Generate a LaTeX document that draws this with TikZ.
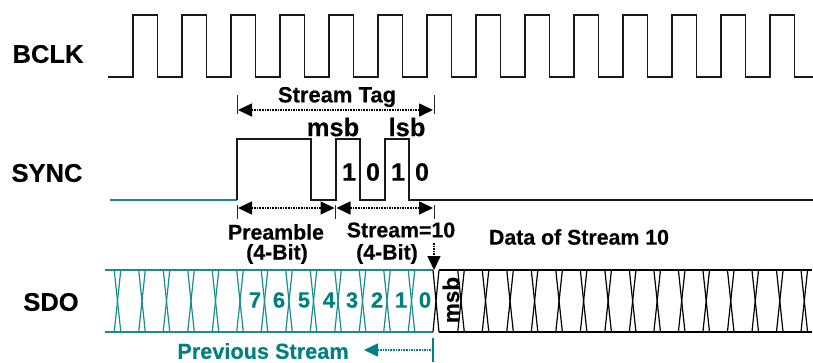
\documentclass[tikz,border=0pt]{standalone}
\usepackage{fontspec}
\setmainfont{Liberation Sans}[BoldFont={Liberation Sans Bold},BoldFeatures={FakeBold=0.35}]
\usetikzlibrary{arrows.meta}
\definecolor{tealc}{RGB}{0,128,128}
\tikzset{
  wave/.style={line width=1.3pt,black!90,line join=miter},
  twave/.style={line width=1.2pt,tealc!90!white},
  xline/.style={line width=1.2pt,black},
  tick/.style={line width=0.9pt,black!85},
  dotarrow/.style={line width=1.6pt,dash pattern=on 1.6pt off 1pt,
     {Triangle[length=14pt,width=13pt,sep=0pt]}-{Triangle[length=14pt,width=13pt]},shorten <=1pt,shorten >=1pt},
  onearrow/.style={line width=1.6pt,dash pattern=on 1.6pt off 1pt,-{Triangle[length=14pt,width=13pt]}},
  lab/.style={font=\bfseries\fontsize{25.5}{27}\selectfont,inner sep=0pt},
  txt/.style={font=\bfseries\fontsize{21.3}{23}\selectfont,inner sep=0pt},
  bits/.style={font=\bfseries\fontsize{25}{27}\selectfont,inner sep=0pt},
  tbits/.style={font=\bfseries\fontsize{22}{24}\selectfont,inner sep=0pt,text=tealc},
}
\begin{document}
\begin{tikzpicture}[x=1pt,y=-1pt]
\useasboundingbox[fill=white] (0,0) rectangle (813,362);
% labels
\node[lab] (bclk) at (48,54) {BCLK};
\node[lab] (sync) at (47,173) {SYNC};
\node[lab] (sdo) at (51,302) {SDO};
% BCLK
\draw[wave] (108,77)
  \foreach \k in {0,...,13}{ -- ({133+49*\k},77) -- ({133+49*\k},15) -- ({157.5+49*\k},15) -- ({157.5+49*\k},77) }
  -- (813,77);
% SYNC
\coordinate (s0) at (110,200);
\coordinate (s1) at (237,200);
\draw[twave] (s0) -- (s1);
\draw[wave] (s1) -- (237,139) -- (311,139) -- (311,200) -- (336,200) -- (336,139) -- (360,139)
  -- (360,200) -- (385,200) -- (385,139) -- (409,139) -- (409,200) -- (813,200);
% stream tag
\coordinate (t1) at (237,110);
\coordinate (t2) at (434,110);
\draw[tick] (237,95) -- (237,114);
\draw[tick] (434,95) -- (434,114);
\draw[dotarrow] (t1) -- (t2);
\node[txt,font=\bfseries\fontsize{22}{24}\selectfont] (streamtag) at (337,97) {Stream Tag};
\node[lab] (msbtop) at (333,127) {msb};
\node[lab] (lsbtop) at (407,127) {lsb};
\node[bits] (b1) at (349,172) {1};
\node[bits] (b2) at (373,172) {0};
\node[bits] (b3) at (398,172) {1};
\node[bits] (b4) at (422,172) {0};
% preamble / stream arrows
\coordinate (p1) at (237,208);
\coordinate (p2) at (335.5,208);
\coordinate (p3) at (434,208);
\draw[tick] (237,205) -- (237,219);
\draw[tick] (335.5,205) -- (335.5,219);
\draw[tick] (434,205) -- (434,219);
\draw[dotarrow] (p1) -- (p2);
\draw[dotarrow] (p2) -- (p3);
\node[txt] (pre) at (276,232) {Preamble};
\node[txt] (pre2) at (277,254) {(4-Bit)};
\node[txt] (str) at (401,230) {Stream=10};
\node[txt] (str2) at (387,254) {(4-Bit)};
\node[txt] (data) at (579,237) {Data of Stream 10};
\coordinate (d1) at (434,243);
\coordinate (d2) at (434,270);
\draw[onearrow] (d1) -- (d2);
% SDO teal
\draw[twave] (105,270) -- (433,270);
\draw[twave] (105,332) -- (433,332);
\foreach \k in {0,...,12}{
  \draw[twave] ({117.5+24.5*\k-3.3},270) -- ({117.5+24.5*\k+3.3},332);
  \draw[twave] ({117.5+24.5*\k+3.3},270) -- ({117.5+24.5*\k-3.3},332);
}
% centre crossing
\draw[xline] (433,270) -- (439,332);
\draw[xline] (439,270) -- (433,332);
% SDO black
\draw[xline] (439,270) -- (812,270);
\draw[xline] (439,332) -- (812,332);
\foreach \k in {0,...,14}{
  \draw[xline] ({461+24.52*\k-3.3},270) -- ({461+24.52*\k+3.3},332);
  \draw[xline] ({461+24.52*\k+3.3},270) -- ({461+24.52*\k-3.3},332);
}
% digits
\node[tbits] (d7) at (255,300) {7};
\node[tbits] (d6) at (279,300) {6};
\node[tbits] (d5) at (304,300) {5};
\node[tbits] (d4) at (329,300) {4};
\node[tbits] (d3) at (352,300) {3};
\node[tbits] (d2n) at (377,300) {2};
\node[tbits] (d1n) at (401,300) {1};
\node[tbits] (d0) at (425,300) {0};
\node[txt,rotate=90,font=\bfseries\fontsize{22.5}{24}\selectfont] (msbv) at (451,300) {msb};
% previous stream
\node[txt,text=tealc,font=\bfseries\fontsize{21.7}{24}\selectfont] (prev) at (263,351) {Previous Stream};
\coordinate (ps1) at (431,350);
\coordinate (ps2) at (364,350);
\draw[tealc,line width=1.1pt] (433,338) -- (433,362);
\draw[onearrow,tealc] (ps1) -- (ps2);
\end{tikzpicture}
\end{document}
